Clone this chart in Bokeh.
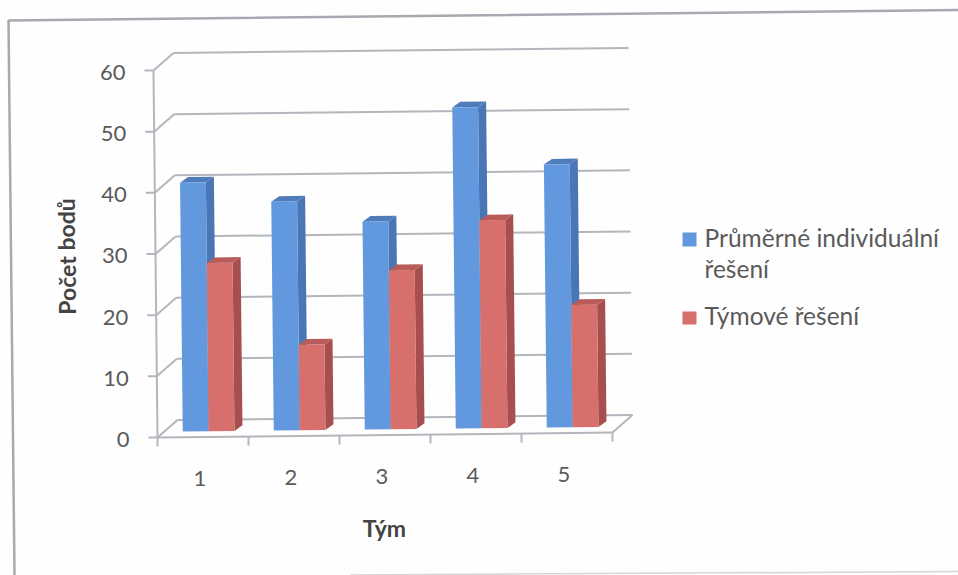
from bokeh.core.properties import value
from bokeh.embed import file_html
from bokeh.plotting import figure
from bokeh.resources import INLINE

teams = ["1", "2", "3", "4", "5"]
individual = [40.7, 37.4, 34.0, 52.5, 43.0]
team = [27.5, 14.0, 26.0, 34.0, 20.0]
value_ticks = [0, 10, 20, 30, 40, 50, 60]
series_names = ["Průměrné individuální", "řešení", "Týmové řešení"]

W, H = 958, 575
PX_PER_CAT, PX_PER_VAL = 91.0, 6.1167
ORIGIN_X, ORIGIN_Y = 157.0, 437.0

FONT = value("Lato")
GRID = "#b4b6bd"
TEXT = "#5a5a5a"
BLUE = ("#6298de", "#4f7cbb", "#4a76b6")
RED = ("#d76f6d", "#b85c5a", "#a64f4e")

p = figure(
    width=W, height=H, output_backend="svg", toolbar_location=None,
    x_range=(-ORIGIN_X / PX_PER_CAT, (W - ORIGIN_X) / PX_PER_CAT),
    y_range=((ORIGIN_Y - H) / PX_PER_VAL, ORIGIN_Y / PX_PER_VAL),
    min_border=0,
)
p.axis.visible = False
p.grid.visible = False
p.outline_line_color = None
p.background_fill_color = "#fefefe"
p.border_fill_color = "#fefefe"


def project(cat, val, dx=0.0, dy=0.0):
    """Oblique view: (category, value) plus a screen offset in pixels for depth (dy upward)."""
    x = cat + (dx - val * 0.0667) / PX_PER_CAT
    y = val + (cat + dy) / PX_PER_VAL
    return x, y


def pts(*corners):
    xy = [project(*c) for c in corners]
    return [a for a, _ in xy], [b for _, b in xy]


def seg(a, b, color=GRID, width=2.0):
    xs, ys = pts(a, b)
    p.line(xs, ys, line_color=color, line_width=width)


# depth of the back wall and of the bars, in screen pixels
WALL = (20.0, 17.5)
BAR_FRONT = (6.7, 5.7)
BAR_DEEP = (8.0, 5.7)
N = len(teams)
wx, wy = WALL

# back wall gridlines and their returns to the value axis
for v in value_ticks:
    seg((0, v), (0, v, wx, wy))
    seg((0, v, wx, wy), (N, v, wx, wy))
    seg((0, v), (0, v, -9, 0))

# floor edges, value axis and category ticks
seg((0, 0), (0, 60))
seg((0, 0), (N, 0))
seg((N, 0), (N, 0, wx, wy))
for c in range(N + 1):
    seg((c, 0), (c, 0, 0, -9))

# one box per value: side, top, then the front face
BAR_W = 0.284
BAR_GAP = 0.204


def box(left, val, shades):
    fx, fy = BAR_FRONT
    bx, by = fx + BAR_DEEP[0], fy + BAR_DEEP[1]
    right = left + BAR_W
    xs, ys = pts((right, 0, fx, fy), (right, 0, bx, by), (right, val, bx, by), (right, val, fx, fy))
    p.patch(xs, ys, fill_color=shades[2], line_color=None)
    xs, ys = pts((left, val, fx, fy), (left, val, bx, by), (right, val, bx, by), (right, val, fx, fy))
    p.patch(xs, ys, fill_color=shades[1], line_color=None)
    xs, ys = pts((left, 0, fx, fy), (right, 0, fx, fy), (right, val, fx, fy), (left, val, fx, fy))
    p.patch(xs, ys, fill_color=shades[0], line_color=None)


for i in range(N):
    left = i + BAR_GAP
    box(left, individual[i], BLUE)
    box(left + BAR_W, team[i], RED)

# tick labels
for v in value_ticks:
    x, y = project(0, v, -28, -2)
    p.text([x], [y], text=[str(v)], text_font=FONT, text_font_size="22px", text_color=TEXT,
           text_align="right", text_baseline="middle")
for i, name in enumerate(teams):
    x, y = project(i + 0.465, 0, 0, -41)
    p.text([x], [y], text=[name], text_font=FONT, text_font_size="22px", text_color=TEXT,
           text_align="center", text_baseline="middle")


def to_data(px, py):
    return (px - ORIGIN_X) / PX_PER_CAT, (ORIGIN_Y - py) / PX_PER_VAL


# axis titles
x, y = to_data(66, 256)
p.text([x], [y], text=["Počet bodů"], angle=[1.5708], text_font=FONT, text_font_size="23px",
       text_font_style="bold", text_color="#444444", text_align="center", text_baseline="middle")
x, y = to_data(384, 527)
p.text([x], [y], text=["Tým"], text_font=FONT, text_font_size="23px", text_font_style="bold",
       text_color="#444444", text_align="center", text_baseline="middle")

# legend
for (px0, py0, px1, py1), col in (((682, 232, 696, 246), BLUE[0]), ((682, 311, 696, 324), RED[0])):
    x0, y0 = to_data(px0, py0)
    x1, y1 = to_data(px1, py1)
    p.patch([x0, x1, x1, x0], [y0, y0, y1, y1], fill_color=col, line_color=None)
for name, (px, py) in zip(series_names, ((704, 237), (704, 268), (704, 315))):
    x, y = to_data(px, py)
    p.text([x], [y], text=[name], text_font=FONT, text_font_size="24.5px", text_color=TEXT,
           text_align="left", text_baseline="middle")

# sheet frame, slightly skewed
fx0, fy0 = to_data(8, 20)
fx1, fy1 = to_data(958, 9.5)
fx2, fy2 = to_data(14, 575)
p.line([fx1, fx0, fx2], [fy1, fy0, fy2], line_color="#a6a9b0", line_width=2.5)
bx0, by0 = to_data(350, 574.5)
bx1, by1 = to_data(958, 571)
p.line([bx0, bx1], [by0, by1], line_color="#d4d6da", line_width=1.5)

open("out.html", "w").write(file_html(p, INLINE))
